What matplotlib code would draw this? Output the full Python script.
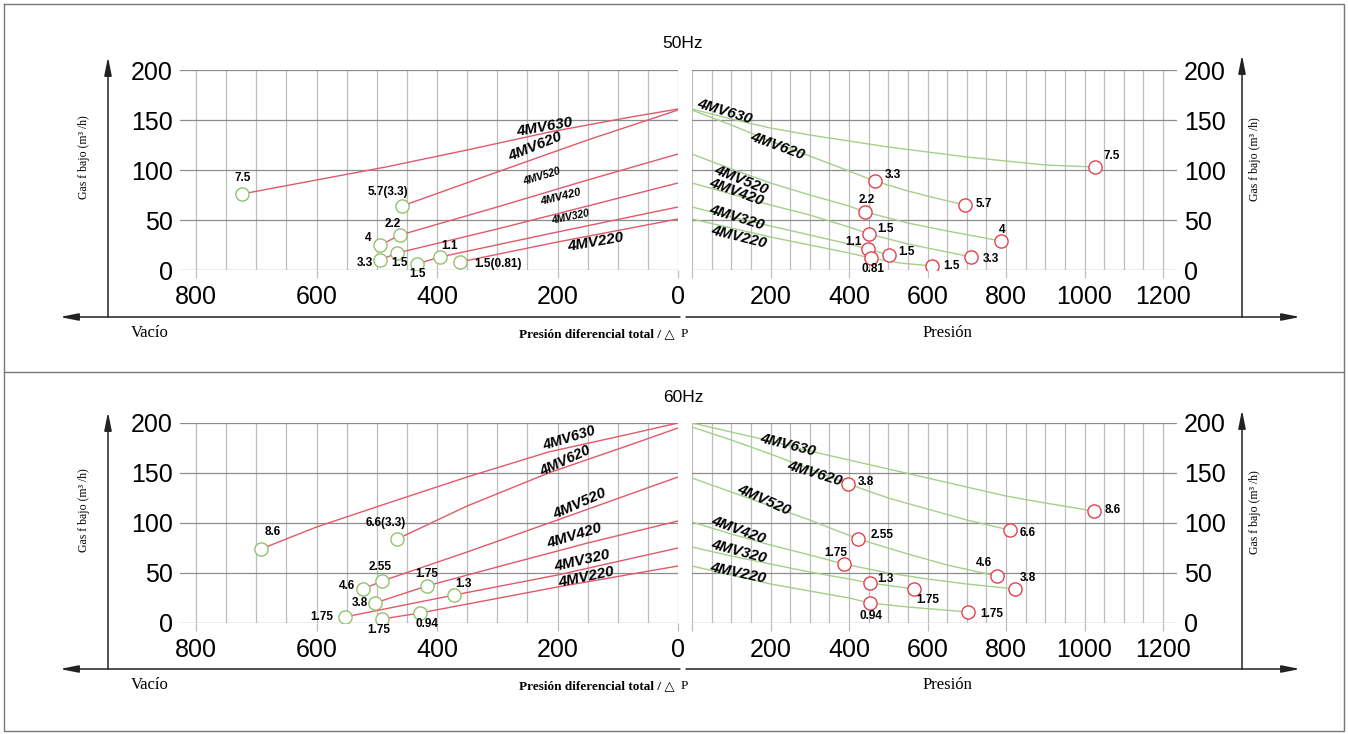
import numpy as np
import matplotlib
matplotlib.use("Agg")
import matplotlib.pyplot as plt

models = ["4MV630", "4MV620", "4MV520", "4MV420", "4MV320", "4MV220"]

# 50 Hz, vacuum side
vac50_x = [[724, 600, 485, 350, 213, 78, 0],
           [458, 300, 150, 0],
           [494, 461, 300, 150, 0],
           [495, 466, 300, 150, 0],
           [434, 395, 200, 0],
           [362, 200, 0]]
vac50_y = [[76, 90, 103, 120, 138, 153, 161],
           [64, 98, 130, 160],
           [25, 35, 63, 90, 116],
           [10, 17, 41, 64, 87],
           [6, 13, 38, 63],
           [8, 28, 51]]
vac50_pt_x = [724, 458, 461, 494, 495, 466, 434, 395, 362]
vac50_pt_y = [76, 64, 35, 25, 10, 17, 6, 13, 8]
vac50_pt_lbl = ["7.5", "5.7(3.3)", "2.2", "4", "3.3", "1.5", "1.5", "1.1", "1.5(0.81)"]

# 50 Hz, pressure side
press50_x = [[0, 100, 200, 300, 400, 500, 600, 700, 800, 900, 1028],
             [0, 100, 200, 300, 400, 465, 550, 620, 696],
             [0, 100, 200, 300, 400, 442, 550, 650, 787],
             [0, 100, 200, 300, 400, 452, 550, 650, 712],
             [0, 100, 200, 300, 400, 448, 502],
             [0, 100, 200, 300, 400, 455, 530, 612]]
press50_y = [[161, 151, 142, 135, 129, 123, 118, 113, 109, 105, 103],
             [160, 145, 129, 114, 99, 89, 79, 72, 65],
             [116, 101, 87, 75, 64, 58, 47, 39, 29],
             [87, 76, 65, 55, 43, 36, 26, 18, 13],
             [63, 53, 44, 35, 26, 21, 15],
             [51, 42, 33, 25, 17, 12, 7, 4]]
press50_pt_x = [1028, 465, 696, 442, 452, 448, 502, 455, 612, 712, 787]
press50_pt_y = [103, 89, 65, 58, 36, 21, 15, 12, 4, 13, 29]
press50_pt_lbl = ["7.5", "3.3", "5.7", "2.2", "1.5", "1.1", "1.5", "0.81", "1.5", "3.3", "4"]

# 60 Hz, vacuum side
vac60_x = [[692, 600, 486, 350, 215, 80, 0],
           [466, 350, 215, 80, 0],
           [523, 491, 350, 200, 0],
           [503, 417, 300, 150, 0],
           [553, 371, 200, 0],
           [491, 428, 200, 0]]
vac60_y = [[74, 96, 119, 146, 171, 189, 200],
           [84, 117, 150, 178, 195],
           [34, 42, 71, 103, 146],
           [20, 37, 56, 80, 102],
           [6, 28, 48, 75],
           [4, 10, 36, 57]]
vac60_pt_x = [692, 466, 491, 523, 503, 553, 491, 417, 371, 428]
vac60_pt_y = [74, 84, 42, 34, 20, 6, 4, 37, 28, 10]
vac60_pt_lbl = ["8.6", "6.6(3.3)", "2.55", "4.6", "3.8", "1.75", "1.75", "1.75", "1.3", "0.94"]

# 60 Hz, pressure side
press60_x = [[0, 100, 200, 300, 400, 500, 600, 700, 800, 900, 1023],
             [0, 100, 200, 300, 398, 500, 600, 700, 809],
             [0, 100, 200, 300, 424, 550, 650, 776],
             [0, 100, 200, 300, 387, 500, 600, 700, 824],
             [0, 100, 200, 300, 400, 453, 566],
             [0, 100, 200, 300, 400, 454, 550, 704]]
press60_y = [[200, 191, 182, 172, 163, 154, 145, 136, 127, 120, 112],
             [196, 183, 169, 154, 139, 125, 114, 103, 93],
             [145, 131, 117, 103, 84, 69, 58, 47],
             [101, 89, 78, 68, 59, 50, 44, 39, 34],
             [76, 67, 59, 51, 44, 40, 34],
             [57, 48, 39, 32, 25, 20, 16, 11]]
press60_pt_x = [1023, 398, 809, 424, 387, 776, 824, 453, 566, 454, 704]
press60_pt_y = [112, 139, 93, 84, 59, 47, 34, 40, 34, 20, 11]
press60_pt_lbl = ["8.6", "3.8", "6.6", "2.55", "1.75", "4.6", "3.8", "1.3", "1.75", "0.94", "1.75"]

# layout: label offsets in pixels, curve-name placement (x, y, rotation, size)
vac50_off = [(1, 16), (-14, 14), (-7, 11), (-12, 7), (-15, -3), (2, -10), (1, -10), (9, 11), (38, -2)]
press50_off = [(16, 11), (18, 6), (19, 1), (1, 12), (16, 5), (-14, 7), (17, 3), (2, -11), (19, 0), (19, -2), (1, 11)]
vac60_off = [(12, 17), (-11, 16), (-2, 14), (-16, 3), (-15, 0), (-23, 0), (-3, -11), (0, 12), (9, 11), (7, -11)]
press60_off = [(19, 1), (18, 2), (18, -3), (24, 4), (-8, 11), (-13, 13), (12, 11), (16, 4), (14, -11), (1, -13), (23, -2)]

vac50_lab = [(222, 143, 10, 11), (237, 123, 22, 11), (227, 93, 17, 7.5),
             (195, 73, 14, 8), (178, 53, 12, 7.5), (136, 28, 10, 11)]
press50_lab = [(83, 159, -17, 11), (217, 124, -20, 11), (124, 90, -22, 11),
               (113, 78, -20, 11), (113, 53, -17, 11), (119, 33, -14, 11)]
vac60_lab = [(181, 185, 17, 10.5), (188, 162, 25, 10.5), (163, 119, 24, 11),
             (172, 87, 17, 11), (159, 62, 13, 11), (152, 46, 12, 11)]
press60_lab = [(243, 178, -14, 11), (312, 150, -17, 11), (182, 123, -24, 11),
               (118, 93, -20, 11), (118, 72, -15, 11), (118, 50, -12, 11)]

W, H = 1348, 734
SANS = "Liberation Sans"
SERIF = ["Liberation Serif", "DejaVu Serif"]
RED = "#e3586b"
GREEN = "#a6cf8a"

fig = plt.figure(figsize=(W / 100, H / 100), dpi=100)
fig.patch.set_facecolor("white")

# overlay axes in pixel coordinates for arrows, frame and captions
ov = fig.add_axes([0, 0, 1, 1], zorder=0)
ov.set_xlim(0, W)
ov.set_ylim(H, 0)
ov.axis("off")
ov.patch.set_alpha(0)


def px_rect(x0, y0, x1, y1):
    return [x0 / W, 1 - y1 / H, (x1 - x0) / W, (y1 - y0) / H]


def arrow(x0, y0, x1, y1):
    ov.annotate("", xy=(x1, y1), xytext=(x0, y0),
                arrowprops=dict(arrowstyle="-|>,head_length=1.1,head_width=0.22",
                                color="#222222", lw=1.1, mutation_scale=10,
                                shrinkA=0, shrinkB=0))


def panel(rect, xmax, side, cx, cy, px, py, plbl, offs, labs, lcol, mcol):
    ax = fig.add_axes(rect, zorder=2)
    ax.patch.set_alpha(0)
    if side == "left":
        ax.set_xlim(xmax, 0)
        ax.set_xticks(np.arange(0, 801, 200))
        ax.set_xticks(np.arange(0, 801, 50), minor=True)
    else:
        ax.set_xlim(0, xmax)
        ax.set_xticks(np.arange(0, 1201, 200))
        ax.set_xticklabels([""] + [str(v) for v in range(200, 1201, 200)])
        ax.set_xticks(np.arange(0, 1201, 50), minor=True)
        ax.yaxis.tick_right()
    ax.set_ylim(0, 200)
    ax.set_yticks(np.arange(0, 201, 50))
    for s in ax.spines.values():
        s.set_visible(False)
    ax.grid(True, which="both", axis="x", color="#bdbdbd", lw=0.9)
    ax.grid(True, which="major", axis="y", color="#8c8c8c", lw=0.9)
    ax.tick_params(axis="x", which="major", length=6, width=0.9, color="#bdbdbd",
                   pad=5, labelsize=18)
    ax.tick_params(axis="x", which="minor", length=0)
    ax.tick_params(axis="y", length=0, pad=5, labelsize=18)
    for t in ax.get_xticklabels() + ax.get_yticklabels():
        t.set_fontfamily(SANS)
    for xs, ys in zip(cx, cy):
        ax.plot(xs, ys, color=lcol, lw=1.0, zorder=3)
    ax.plot(px, py, "o", ms=9.5, mfc="white", mec=mcol, mew=1.0, zorder=4)
    for x, y, t, (dx, dy) in zip(px, py, plbl, offs):
        ax.annotate(t, (x, y), xytext=(dx, dy), textcoords="offset pixels",
                    ha="center", va="center", fontsize=8.5, fontweight="bold",
                    fontfamily=SANS, zorder=5)
    for name, (x, y, rot, fs) in zip(models, labs):
        ax.text(x, y, name, rotation=rot, ha="center", va="center",
                fontsize=fs, fontweight="bold", fontstyle="italic",
                fontfamily=SANS, rotation_mode="anchor", zorder=5)
    return ax


xl_left = 800 + (196 - 180) / 0.6025
xr_right = (1177 - 692) / 0.3925

panel(px_rect(180, 70, 678, 270), xl_left, "left", vac50_x, vac50_y,
      vac50_pt_x, vac50_pt_y, vac50_pt_lbl, vac50_off, vac50_lab, RED, "#93c26f")
panel(px_rect(692, 70, 1177, 270), xr_right, "right", press50_x, press50_y,
      press50_pt_x, press50_pt_y, press50_pt_lbl, press50_off, press50_lab, GREEN, "#e2424f")
panel(px_rect(180, 423, 678, 623), xl_left, "left", vac60_x, vac60_y,
      vac60_pt_x, vac60_pt_y, vac60_pt_lbl, vac60_off, vac60_lab, RED, "#93c26f")
panel(px_rect(692, 423, 1177, 623), xr_right, "right", press60_x, press60_y,
      press60_pt_x, press60_pt_y, press60_pt_lbl, press60_off, press60_lab, GREEN, "#e2424f")

# frame
ov.plot([4, 1344, 1344, 4, 4], [4, 4, 731, 731, 4], color="#777777", lw=1)
ov.plot([4, 1344], [372, 372], color="#777777", lw=1)

for top, base, title in [(57, 317, "50Hz"), (412, 669, "60Hz")]:
    arrow(108, base, 108, top)
    arrow(1242, base, 1242, top - 2)
    arrow(680, base, 60, base)
    arrow(686, base, 1300, base)
    ov.text(683, top - 14, title, ha="center", va="center", fontsize=12.5,
            fontfamily=SANS)
    ov.text(150, base + 16, "Vacío", ha="center", va="center", fontsize=12,
            fontfamily=SERIF)
    ov.text(947, base + 16, "Presión", ha="center", va="center", fontsize=12,
            fontfamily=SERIF)
    ov.text(675, base + 17, "Presión diferencial total / △", ha="right",
            va="center", fontsize=9.5, fontweight="bold", fontfamily=SERIF)
    ov.text(684, base + 17, "P", ha="center", va="center", fontsize=9.5,
            fontfamily=SERIF)
    mid = (top + base) / 2 - 30
    ov.text(84, mid, "Gas f bajo (m³ /h)", rotation=90, ha="center",
            va="center", fontsize=8.5, fontfamily=SERIF)
    ov.text(1255, mid + 2, "Gas f bajo (m³ /h)", rotation=90, ha="center",
            va="center", fontsize=8.5, fontfamily=SERIF)

fig.savefig("out.png", dpi=100)
